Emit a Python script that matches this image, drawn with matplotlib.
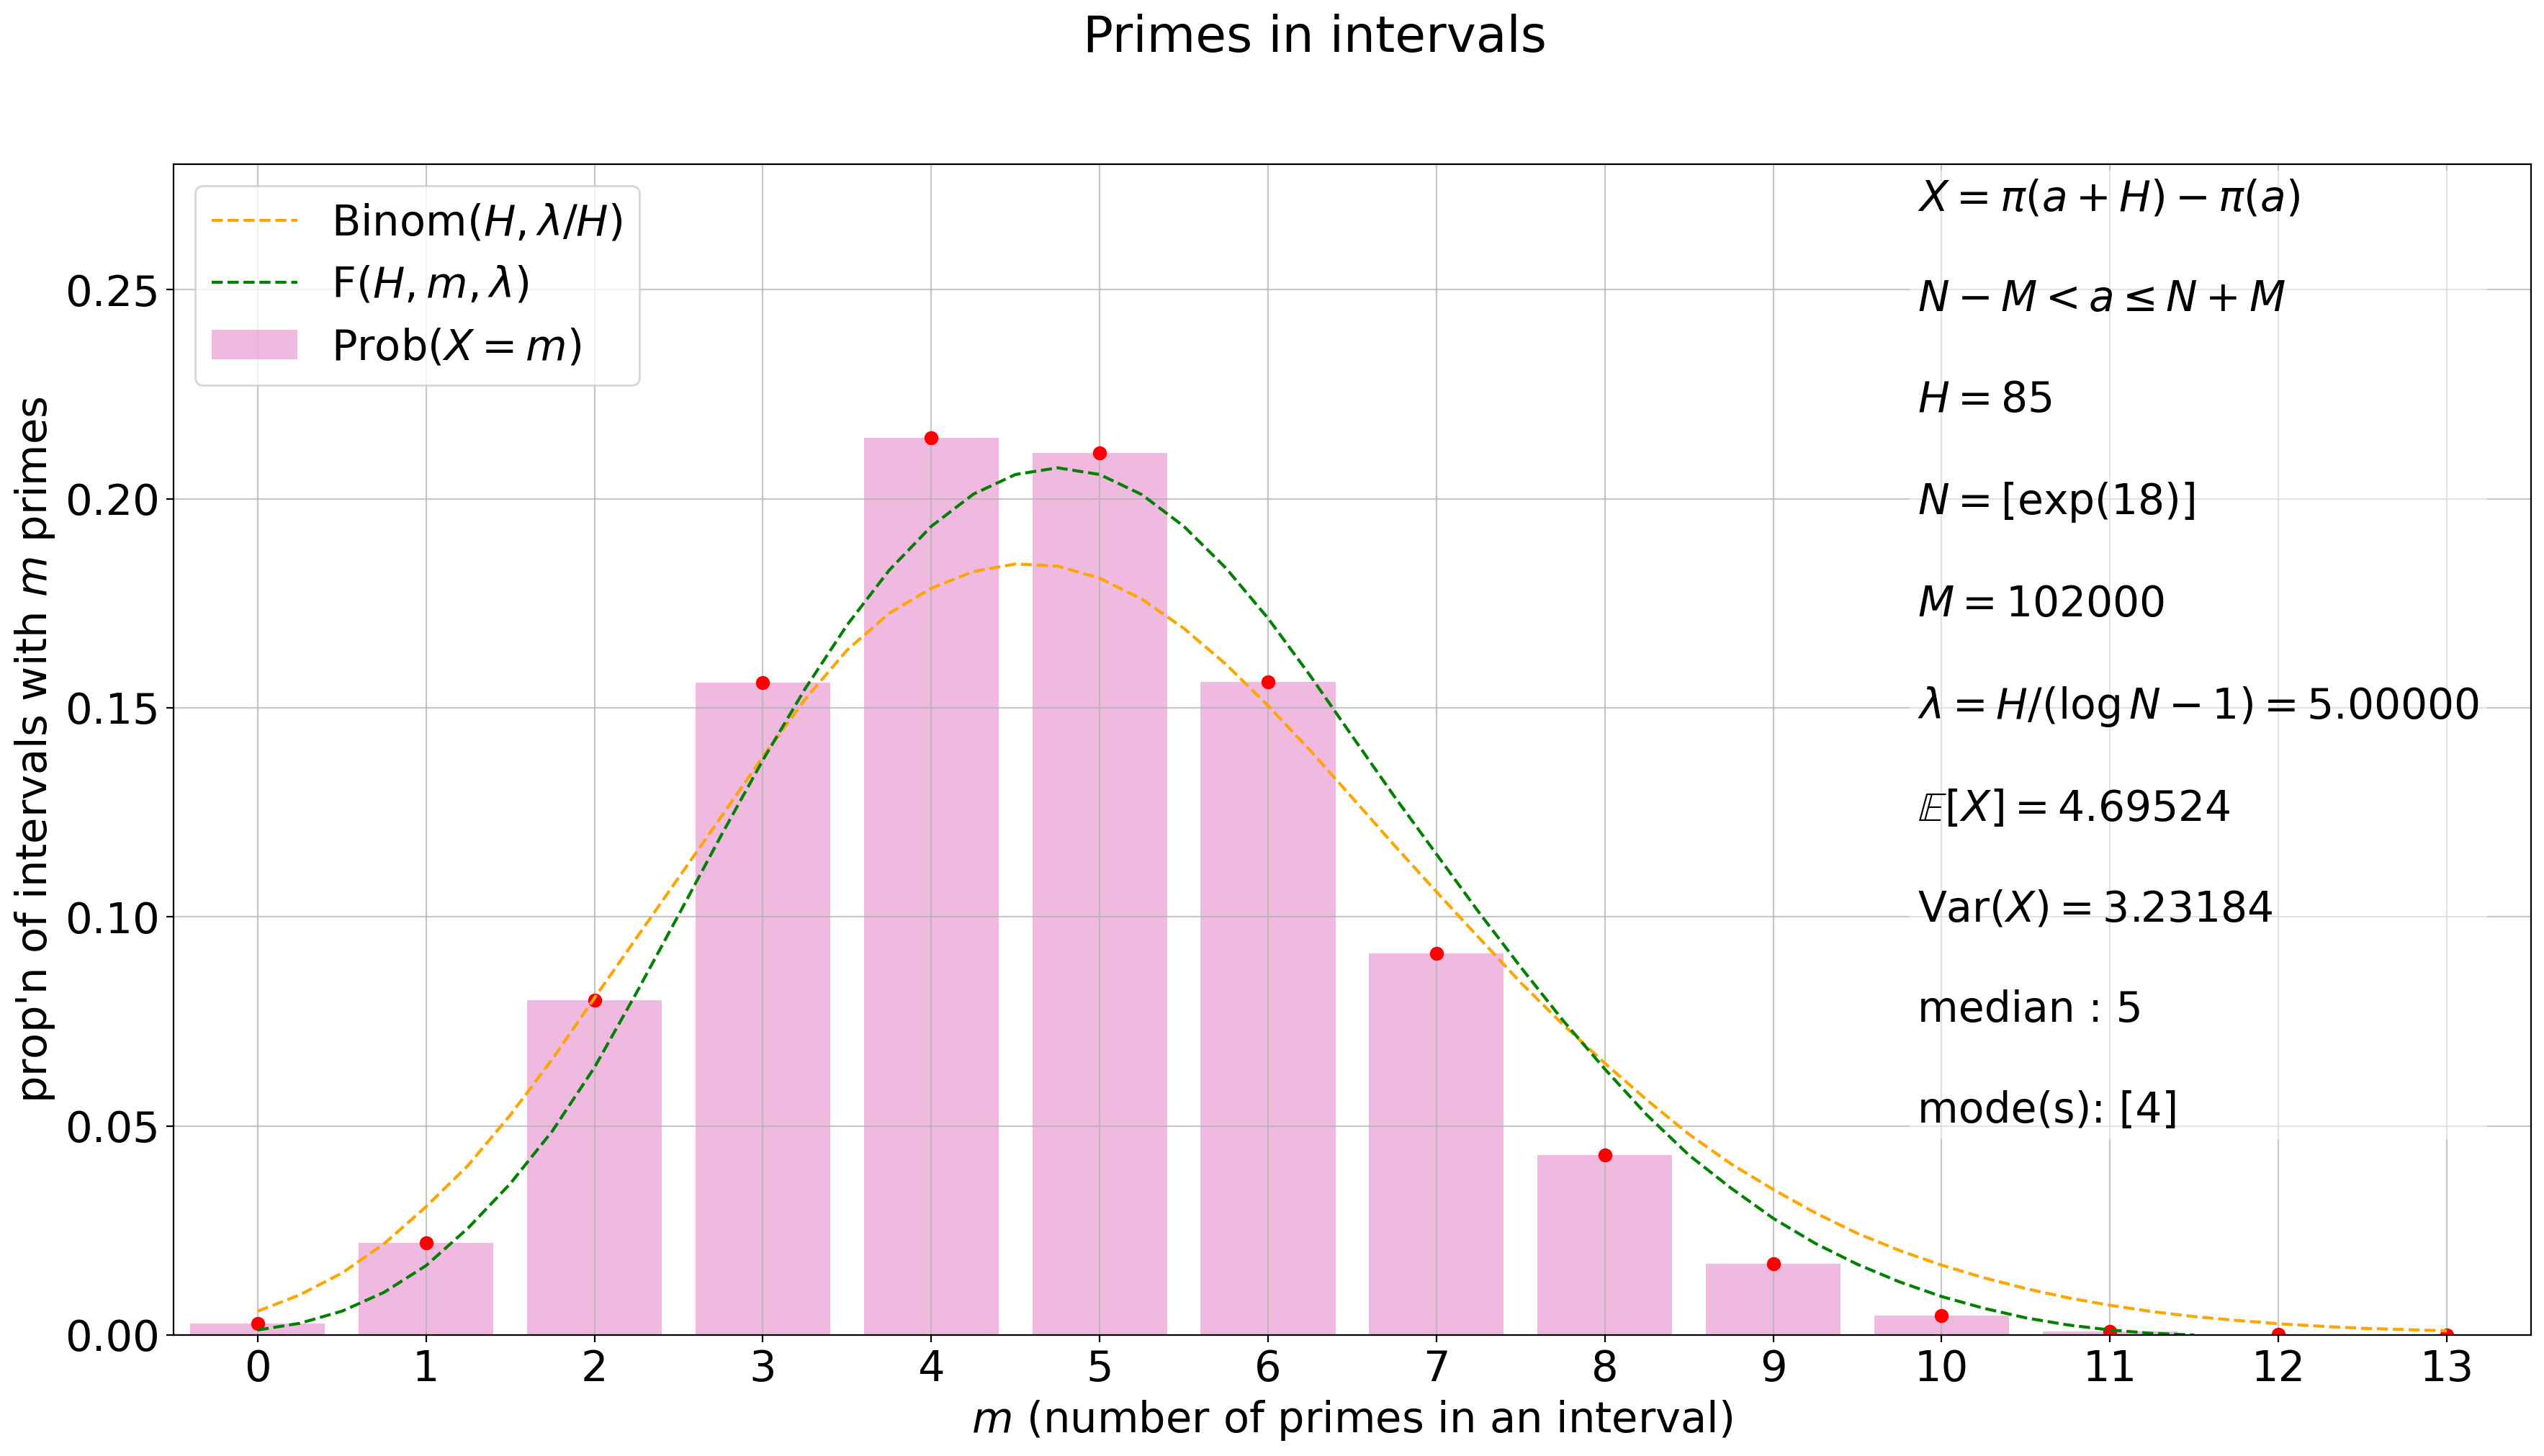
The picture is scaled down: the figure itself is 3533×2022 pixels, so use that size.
import matplotlib
matplotlib.use("Agg")
import matplotlib.pyplot as plt

plt.rcParams['font.family'] = ['DejaVu Sans']
plt.rcParams['font.size'] = 21.3

# ---- data ----
m_values = [0, 1, 2, 3, 4, 5, 6, 7, 8, 9, 10, 11, 12, 13]
prob_values = [0.0028, 0.0221, 0.0800, 0.1561, 0.2145, 0.2109, 0.1562,
               0.0912, 0.0430, 0.0170, 0.0046, 0.0009, 0.0002, 0.00003]

binom_x = [0, 0.25, 0.5, 0.75, 1, 1.25, 1.5, 1.75, 2, 2.25, 2.5, 2.75,
           3, 3.25, 3.5, 3.75, 4, 4.25, 4.5, 4.75, 5, 5.25, 5.5, 5.75,
           6, 6.25, 6.5, 6.75, 7, 7.25, 7.5, 7.75, 8, 8.25, 8.5, 8.75,
           9, 9.25, 9.5, 9.75, 10, 10.25, 10.5, 10.75, 11, 11.25, 11.5, 11.75,
           12, 12.25, 12.5, 12.75, 13]
binom_y = [0.0057, 0.0096, 0.0148, 0.0218, 0.0307, 0.0406, 0.0526, 0.0660,
           0.0806, 0.0950, 0.1094, 0.1238, 0.1383, 0.1520, 0.1638, 0.1726,
           0.1786, 0.1826, 0.1844, 0.1839, 0.1810, 0.1760, 0.1690, 0.1604,
           0.1505, 0.1398, 0.1285, 0.1171, 0.1060, 0.0951, 0.0843, 0.0743,
           0.0650, 0.0562, 0.0480, 0.0409, 0.0348, 0.0292, 0.0243, 0.0202,
           0.0167, 0.0137, 0.0111, 0.0089, 0.0071, 0.0056, 0.0044, 0.0035,
           0.0027, 0.0021, 0.0016, 0.0013, 0.0010]

f_x = [0, 0.25, 0.5, 0.75, 1, 1.25, 1.5, 1.75, 2, 2.25, 2.5, 2.75,
       3, 3.25, 3.5, 3.75, 4, 4.25, 4.5, 4.75, 5, 5.25, 5.5, 5.75,
       6, 6.25, 6.5, 6.75, 7, 7.25, 7.5, 7.75, 8, 8.25, 8.5, 8.75,
       9, 9.25, 9.5, 9.75, 10, 10.25, 10.5, 10.75, 11, 11.25, 11.5]
f_y = [0.0012, 0.0028, 0.0057, 0.0102, 0.0166, 0.0256, 0.0362, 0.0488,
       0.0640, 0.0819, 0.1005, 0.1193, 0.1375, 0.1545, 0.1698, 0.1829,
       0.1934, 0.2011, 0.2058, 0.2074, 0.2058, 0.2010, 0.1934, 0.1834,
       0.1714, 0.1577, 0.1432, 0.1288, 0.1150, 0.1012, 0.0880, 0.0753,
       0.0636, 0.0526, 0.0430, 0.0351, 0.0279, 0.0219, 0.0169, 0.0127,
       0.0092, 0.0064, 0.0041, 0.0024, 0.0012, 0.0004, 0.0000]

stats_lines = [
    r"$X = \pi(a+H) - \pi(a)$",
    r"$N - M < a \leq N + M$",
    r"$H = 85$",
    r"$N = [\exp(18)]$",
    r"$M = 102000$",
    r"$\lambda = H/(\log N - 1) = 5.00000$",
    r"$\mathbb{E}[X] = 4.69524$",
    r"$\mathrm{Var}(X) = 3.23184$",
    "median : 5",
    "mode(s): [4]",
]

fig = plt.figure(figsize=(3533 / 200, 2022 / 200), dpi=200)
ax = fig.add_axes([0.0682, 0.0831, 0.9267, 0.8041])

ax.bar(m_values, prob_values, width=0.8, color='tab:pink', alpha=0.5,
       label=r'Prob$(X = m)$')
ax.plot(m_values, prob_values, 'o', color='red')
ax.plot(binom_x, binom_y, '--', color='orange', lw=1.5,
        label=r'Binom$(H, \lambda/H)$')
ax.plot(f_x, f_y, '--', color='green', lw=1.5, label=r'F$(H, m, \lambda)$')

ax.set_xlim(-0.5, 13.5)
ax.set_ylim(0, 0.28)
ax.set_xticks(m_values)
ax.set_yticks([0.0, 0.05, 0.10, 0.15, 0.20, 0.25])
ax.grid(True, alpha=0.7)

ax.set_xlabel(r'$m$ (number of primes in an interval)')
ax.set_ylabel(r"prop'n of intervals with $m$ primes")

ax.legend(loc='upper left')

ax.text(0.7398, 0.988, "\n\n".join(stats_lines), transform=ax.transAxes,
        ha='left', va='top', fontsize=21.0, linespacing=1.285,
        bbox=dict(facecolor='white', alpha=0.5, edgecolor='none'))

fig.text(0.5168, 0.9645, 'Primes in intervals', ha='center', va='baseline',
         fontsize=25)

fig.savefig('out.png', dpi=200)
